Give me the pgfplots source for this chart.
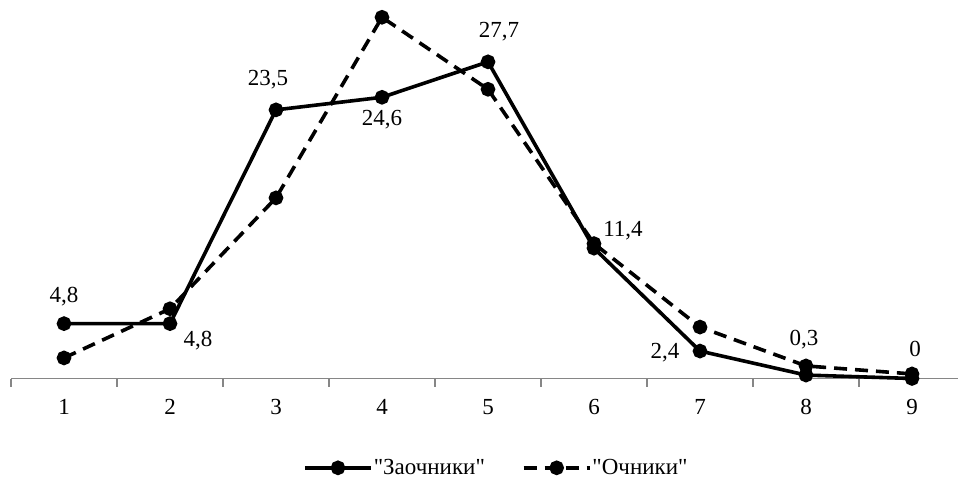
\documentclass[border=0pt]{standalone}
\usepackage{fontspec}
\setmainfont{Liberation Serif}
\newfontfamily\plainserif{Liberation Serif}
\usepackage{pgfplots}
\usepackage{pgfplotstable}
\pgfplotsset{compat=1.18}

\pgfplotstableread{
x  y     label dx  dy
1  4.8   4,8   0   27
2  4.8   4,8   28  -17
3  23.5  23,5  -8  30
4  24.6  24,6  0   -22
5  27.7  27,7  11  30
6  11.4  11,4  29  18
7  2.4   2,4   -35 -2
8  0.3   0,3   -2  35
9  0     0     3   30
}\zaochniki

\pgfplotstableread{
x  y
1  1.8
2  6.1
3  15.8
4  31.6
5  25.3
6  11.8
7  4.5
8  1.1
9  0.4
}\ochniki

\definecolor{axisgray}{RGB}{134,134,134}

\begin{document}
\begin{tikzpicture}
\useasboundingbox (0,0) rectangle (958pt,480pt);
\begin{axis}[
    at={(11pt,101.5pt)}, anchor=south west,
    scale only axis,
    width=947pt, height=378.5pt,
    xmin=0.5, xmax=9.434,
    ymin=0, ymax=33.11,
    clip=false,
    axis x line*=bottom,
    hide y axis,
    x axis line style={axisgray, line width=1.2pt},
    xtick={1,...,9},
    major x tick style={draw=none},
    minor xtick={0.5,1.5,...,8.5},
    minor x tick style={axisgray, line width=1.2pt},
    minor tick length=8pt,
    tick align=outside,
    font=\fontsize{23}{27}\selectfont,
    /pgf/number format/assume math mode=true,
    xticklabel style={anchor=center, yshift=-24.5pt},
    legend columns=2,
    legend style={
        at={(0.512,-0.236)}, anchor=center,
        draw=none, fill=none, inner sep=0pt,
        nodes={inner sep=1pt},
        /tikz/every even column/.append style={column sep=36pt},
        font=\plainserif\fontsize{23}{27}\selectfont,
    },
    legend image code/.code={
        \draw[#1, mark repeat=2, mark phase=2]
            plot coordinates {(0pt,0pt) (33pt,0pt) (66pt,0pt)};
    },
]
\addplot[black, line width=3.6pt, mark=*, mark size=5.5pt,
    mark options={solid},
    nodes near coords,
    point meta=explicit symbolic,
    visualization depends on={\thisrow{dx}\as\dx},
    visualization depends on={\thisrow{dy}\as\dy},
    every node near coord/.append style={anchor=center, xshift=\dx, yshift=\dy, black},
] table[x=x, y=y, meta=label] {\zaochniki};
\addlegendentry{"Заочники"}

\addplot[black, line width=3.6pt, dash pattern=on 13pt off 8pt,
    mark=*, mark size=5.5pt, mark options={solid}]
    table[x=x, y=y] {\ochniki};
\addlegendentry{"Очники"}
\end{axis}
\end{tikzpicture}
\end{document}
